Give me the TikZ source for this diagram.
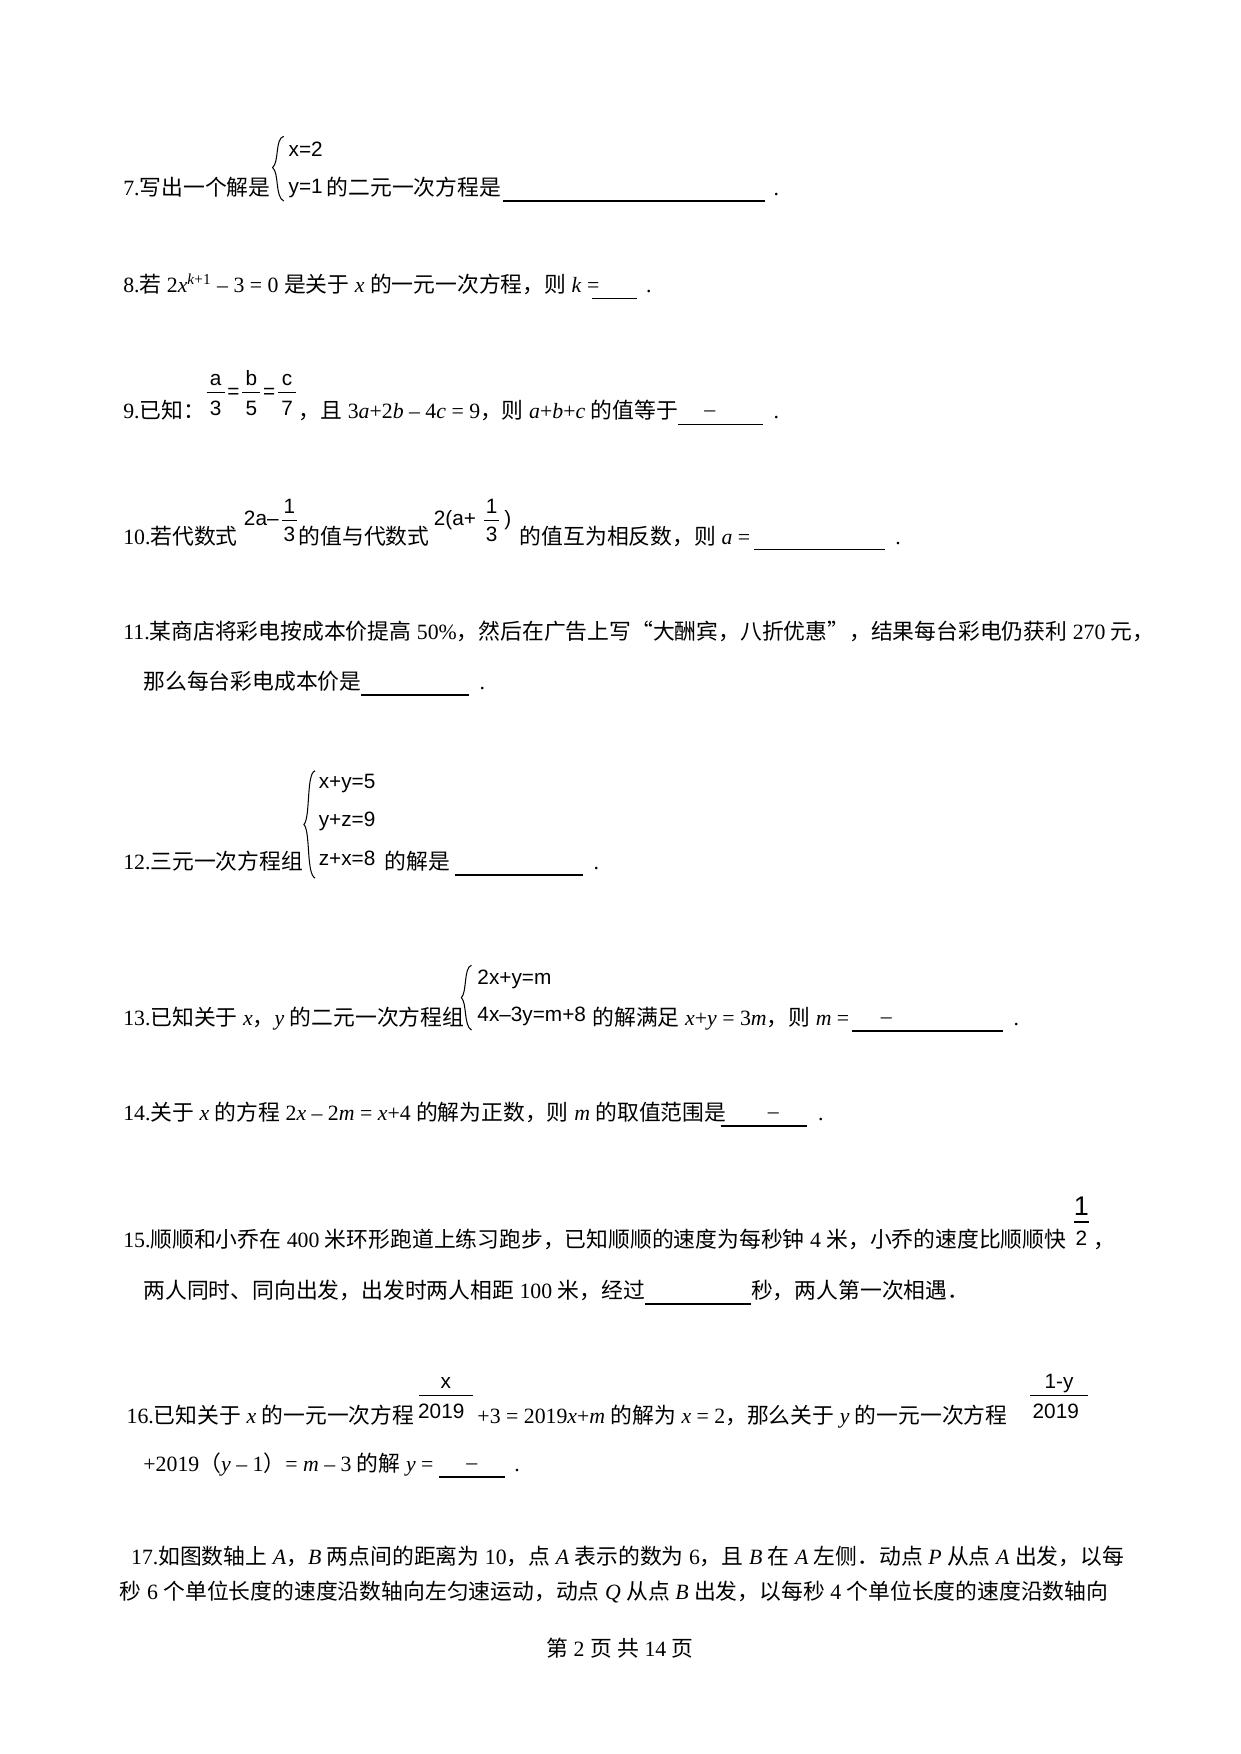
\documentclass[tikz,border=0pt]{standalone}
\usepackage{fontspec}
\setmainfont{Liberation Serif}
\newfontfamily\cjk{Noto Sans CJK SC}
\newfontfamily\fsans{Liberation Sans}
\newcommand\zh[1]{{\cjk #1}}
\newcommand\iv[1]{\textit{#1}}
\begin{document}
\begin{tikzpicture}[x=0.538pt,y=-0.538pt,
  t/.style={anchor=base west,inner sep=0,font=\fontsize{10.5}{12}\selectfont},
  f/.style={anchor=base west,inner sep=0,font=\fsans\fontsize{10}{12}\selectfont},
  fc/.style={anchor=base,inner sep=0,font=\fsans\fontsize{10}{12}\selectfont},
  ul/.style={line width=0.7pt},
  br/.style={line width=0.5pt}]
\useasboundingbox (0,0) rectangle (1110,1570);
% 7
\node[t] (q7) at (110,175) {7.\zh{写出一个解是}};
\draw[br] (254,122) .. controls (246,124) and (250,145) .. (244,150) .. controls (250,155) and (246,176) .. (254,180);
\node[f] (q7a) at (258,140) {x=2};
\node[f] (q7b) at (258,173) {y=1};
\node[t] (q7c) at (292,175) {\zh{的二元一次方程是}};
\draw[ul] (450,180) -- (685,180);
\node[t] at (692,175) {.};
% 8
\node[t] (q8) at (110,262) {8.\zh{若} 2\iv{x}\textsuperscript{\iv{k}+1} – 3 = 0 \zh{是关于} \iv{x} \zh{的一元一次方程，则} \iv{k} =};
\draw[ul] (530,267) -- (570,267);
\node[t] at (578,262) {.};
% 9
\node[t] (q9) at (110,375) {9.\zh{已知：}};
\foreach \n/\d/\xx in {a/3/193,b/5/225,c/7/257}{
  \node[fc] at (\xx,345) {\n};
  \draw[line width=0.5pt] (\xx-8,351) -- (\xx+8,351);
  \node[fc] at (\xx,372) {\d};}
\node[fc] at (209,357) {=};
\node[fc] at (241,357) {=};
\node[t] (q9b) at (267,375) {\zh{，且} 3\iv{a}+2\iv{b} – 4\iv{c} = 9\zh{，则} \iv{a}+\iv{b}+\iv{c} \zh{的值等于}};
\draw[ul] (607,380) -- (683,380);
\node[t] at (630,373) {–};
\node[t] at (692,375) {.};
% 10
\node[t] (q10) at (110,487) {10.\zh{若代数式}};
\node[f] at (218,470) {2a–};
\node[fc] at (259,460) {1};
\draw[line width=0.5pt] (252,466) -- (266,466);
\node[fc] at (259,485) {3};
\node[t] at (267,487) {\zh{的值与代数式}};
\node[f] at (388,470) {2(a+};
\node[fc] at (440,460) {1};
\draw[line width=0.5pt] (433,466) -- (447,466);
\node[fc] at (440,485) {3};
\node[f] at (451,470) {)};
\node[t] at (465,487) {\zh{的值互为相反数，则} \iv{a} =};
\draw[ul] (675,492) -- (792,492);
\node[t] at (801,487) {.};
% 11
\node[t] (q11) at (110,572) {11.\zh{某商店将彩电按成本价提高} 50\%\zh{，然后在广告上写“大酬宾，八折优惠”，结果每台彩电仍获利} 270 \zh{元，}};
\node[t] (q11b) at (128,617) {\zh{那么每台彩电成本价是}};
\draw[ul] (323,622) -- (420,622);
\node[t] at (429,617) {.};
% 12
\node[t] (q12) at (110,778) {12.\zh{三元一次方程组}};
\draw[br] (282,690) .. controls (274,692) and (278,732) .. (272,738) .. controls (278,744) and (274,782) .. (282,786);
\node[f] at (285,706) {x+y=5};
\node[f] at (285,740) {y+z=9};
\node[f] at (285,775) {z+x=8};
\node[t] at (344,778) {\zh{的解是}};
\draw[ul] (407,783) -- (522,783);
\node[t] at (531,778) {.};
% 13
\node[t] (q13) at (110,918) {13.\zh{已知关于} \iv{x}\zh{，}\iv{y} \zh{的二元一次方程组}};
\draw[br] (422,864) .. controls (415,866) and (418,888) .. (413,893) .. controls (418,898) and (415,918) .. (422,922);
\node[f] at (427,881) {2x+y=m};
\node[f] at (427,914) {4x–3y=m+8};
\node[t] at (530,918) {\zh{的解满足} \iv{x}+\iv{y} = 3\iv{m}\zh{，则} \iv{m} =};
\draw[ul] (763,923) -- (898,923);
\node[t] at (788,916) {–};
\node[t] at (907,918) {.};
% 14
\node[t] (q14) at (110,1003) {14.\zh{关于} \iv{x} \zh{的方程} 2\iv{x} – 2\iv{m} = \iv{x}+4 \zh{的解为正数，则} \iv{m} \zh{的取值范围是}};
\draw[ul] (645,1008) -- (722,1008);
\node[t] at (687,1001) {–};
\node[t] at (732,1003) {.};
% 15
\node[t] (q15) at (110,1117) {15.\zh{顺顺和小乔在} 400 \zh{米环形跑道上练习跑步，已知顺顺的速度为每秒钟} 4 \zh{米，小乔的速度比顺顺快}};
\node[fc] at (968,1088) {\fontsize{13}{14}\selectfont 1};
\draw[line width=0.8pt] (961,1094) -- (975,1094);
\node[fc] at (968,1115) {2};
\node[t] at (978,1117) {\zh{，}};
\node[t] (q15b) at (128,1162) {\zh{两人同时、同向出发，出发时两人相距} 100 \zh{米，经过}};
\draw[ul] (577,1167) -- (672,1167);
\node[t] at (672,1162) {\zh{秒，两人第一次相遇．}};
% 16
\node[t] (q16) at (113,1274) {16.\zh{已知关于} \iv{x} \zh{的一元一次方程}};
\node[fc] at (399,1243) {x};
\draw[line width=0.5pt] (375,1249) -- (423,1249);
\node[fc] at (395,1270) {2019};
\node[t] at (427,1274) {+3 = 2019\iv{x}+\iv{m} \zh{的解为} \iv{x} = 2\zh{，那么关于} \iv{y} \zh{的一元一次方程}};
\node[fc] at (948,1243) {1-y};
\draw[line width=0.5pt] (922,1249) -- (974,1249);
\node[fc] at (945,1270) {2019};
\node[t] (q16b) at (128,1317) {+2019\zh{（}\iv{y} – 1\zh{）}= \iv{m} – 3 \zh{的解} \iv{y} =};
\draw[ul] (393,1322) -- (452,1322);
\node[t] at (417,1315) {–};
\node[t] at (460,1317) {.};
% 17
\node[t] (q17) at (117,1400) {17.\zh{如图数轴上} \iv{A}\zh{，}\iv{B} \zh{两点间的距离为} 10\zh{，点} \iv{A} \zh{表示的数为} 6\zh{，且} \iv{B} \zh{在} \iv{A} \zh{左侧．动点} \iv{P} \zh{从点} \iv{A} \zh{出发，以每}};
\node[t] (q17b) at (107,1432) {\zh{秒} 6 \zh{个单位长度的速度沿数轴向左匀速运动，动点} \iv{Q} \zh{从点} \iv{B} \zh{出发，以每秒} 4 \zh{个单位长度的速度沿数轴向}};
% footer
\node[anchor=base,inner sep=0,font=\fontsize{10.5}{12}\selectfont] (ft) at (555,1483) {\zh{第} 2 \zh{页} \zh{共} 14 \zh{页}};
\end{tikzpicture}
\end{document}
